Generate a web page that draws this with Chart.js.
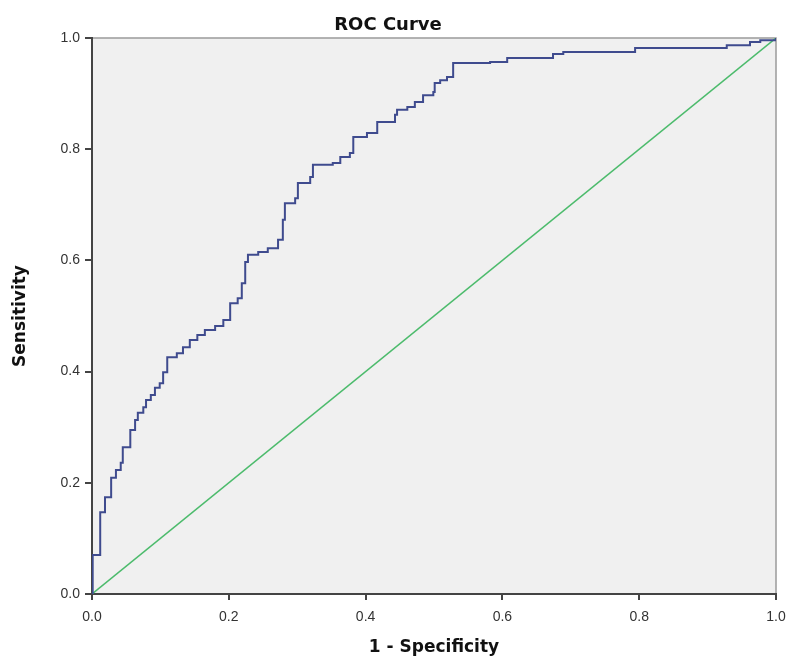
<!DOCTYPE html>
<html>
<head>
<meta charset="utf-8">
<title>ROC Curve</title>
<script src="https://cdn.jsdelivr.net/npm/chart.js@4"></script>
<style>
  body { margin: 0; background: #fff; }
  #wrap { width: 789px; height: 661px; }
</style>
</head>
<body>
<div id="wrap"><canvas id="rocChart" width="789" height="661"></canvas></div>
<script>
// ROC points (1 - specificity, sensitivity)
const fpr = [0, 0.001, 0.012, 0.019, 0.028, 0.035, 0.042, 0.045, 0.056, 0.063, 0.067,
  0.075, 0.079, 0.086, 0.092, 0.099, 0.104, 0.110, 0.124, 0.133, 0.143, 0.154, 0.165,
  0.180, 0.192, 0.202, 0.213, 0.219, 0.224, 0.228, 0.243, 0.257, 0.272, 0.279, 0.282,
  0.297, 0.301, 0.319, 0.323, 0.352, 0.363, 0.377, 0.382, 0.402, 0.417, 0.443, 0.446,
  0.461, 0.472, 0.484, 0.499, 0.501, 0.509, 0.519, 0.528, 0.582, 0.607, 0.674, 0.689,
  0.794, 0.928, 0.962, 0.977, 1.0];
const tpr = [0, 0.070, 0.147, 0.174, 0.209, 0.223, 0.236, 0.264, 0.295, 0.313, 0.326,
  0.336, 0.349, 0.358, 0.371, 0.379, 0.399, 0.426, 0.433, 0.444, 0.457, 0.466, 0.475,
  0.482, 0.493, 0.523, 0.532, 0.559, 0.597, 0.610, 0.615, 0.622, 0.637, 0.673, 0.703,
  0.712, 0.739, 0.750, 0.772, 0.775, 0.786, 0.793, 0.822, 0.829, 0.849, 0.862, 0.871,
  0.876, 0.885, 0.897, 0.903, 0.919, 0.924, 0.930, 0.955, 0.957, 0.964, 0.971, 0.975,
  0.982, 0.987, 0.993, 0.996, 1.0];

// reference line
const refX = [0, 1];
const refY = [0, 1];

const tickValues = [0, 0.2, 0.4, 0.6, 0.8, 1.0];
const tickLabels = ['0.0', '0.2', '0.4', '0.6', '0.8', '1.0'];

const rocPoints = fpr.map((x, i) => ({ x: x, y: tpr[i] }));
const refPoints = refX.map((x, i) => ({ x: x, y: refY[i] }));

const labelFont = 'Liberation Sans, Arial, sans-serif';
const titleFont = 'DejaVu Sans, sans-serif';

// gray plot background plus the light top/right frame
const plotBackground = {
    id: 'plotBackground',
    beforeDraw(chart) {
        const { ctx, chartArea: a } = chart;
        ctx.save();
        ctx.fillStyle = '#f0f0f0';
        ctx.fillRect(a.left, a.top, a.right - a.left, a.bottom - a.top);
        ctx.strokeStyle = '#9a9a9a';
        ctx.lineWidth = 1.5;
        ctx.beginPath();
        ctx.moveTo(a.left, a.top);
        ctx.lineTo(a.right, a.top);
        ctx.lineTo(a.right, a.bottom);
        ctx.stroke();
        ctx.restore();
    }
};

function axisTicks(scale) {
    scale.ticks = tickValues.map(v => ({ value: v }));
}

const ctx = document.getElementById('rocChart').getContext('2d');
const rocChart = new Chart(ctx, {
    type: 'line',
    data: {
        datasets: [
            {
                label: 'ROC',
                data: rocPoints,
                borderColor: '#3f4b8e',
                borderWidth: 2,
                stepped: 'before',
                pointRadius: 0,
                fill: false
            },
            {
                label: 'Reference Line',
                data: refPoints,
                borderColor: '#4cbb6c',
                borderWidth: 1.5,
                pointRadius: 0,
                fill: false
            }
        ]
    },
    options: {
        responsive: false,
        animation: false,
        layout: { padding: { left: 0, right: 13, top: 0, bottom: 0 } },
        plugins: {
            legend: { display: false },
            tooltip: { enabled: false },
            title: {
                display: true,
                text: 'ROC Curve',
                color: '#111',
                font: { family: titleFont, size: 18, weight: 'bold' },
                padding: { top: 14.2, bottom: 2.2 }
            }
        },
        scales: {
            x: {
                type: 'linear',
                min: 0,
                max: 1,
                afterBuildTicks: axisTicks,
                afterFit(scale) {
                    scale.height = 67;
                    scale.paddingRight = 0;
                },
                grid: { drawOnChartArea: false, drawTicks: true, tickLength: 6, color: '#444', lineWidth: 2 },
                border: { display: true, color: '#444', width: 2 },
                ticks: {
                    padding: 9,
                    color: '#333',
                    font: { family: labelFont, size: 14 },
                    callback: (v, i) => tickLabels[i]
                },
                title: {
                    display: true,
                    text: '1 - Specificity',
                    color: '#111',
                    font: { family: titleFont, size: 17, weight: 'bold' },
                    padding: { top: 0, bottom: 3 }
                }
            },
            y: {
                type: 'linear',
                min: 0,
                max: 1,
                afterBuildTicks: axisTicks,
                afterFit(scale) { scale.width = 92; },
                grid: { drawOnChartArea: false, drawTicks: true, tickLength: 7, color: '#444', lineWidth: 2 },
                border: { display: true, color: '#444', width: 2 },
                ticks: {
                    padding: 5,
                    color: '#333',
                    font: { family: labelFont, size: 14 },
                    callback: (v, i) => tickLabels[i]
                },
                title: {
                    display: true,
                    text: 'Sensitivity',
                    color: '#111',
                    font: { family: titleFont, size: 17, weight: 'bold' },
                    padding: { top: 10, bottom: 0 }
                }
            }
        }
    },
    plugins: [plotBackground]
});
</script>
</body>
</html>
